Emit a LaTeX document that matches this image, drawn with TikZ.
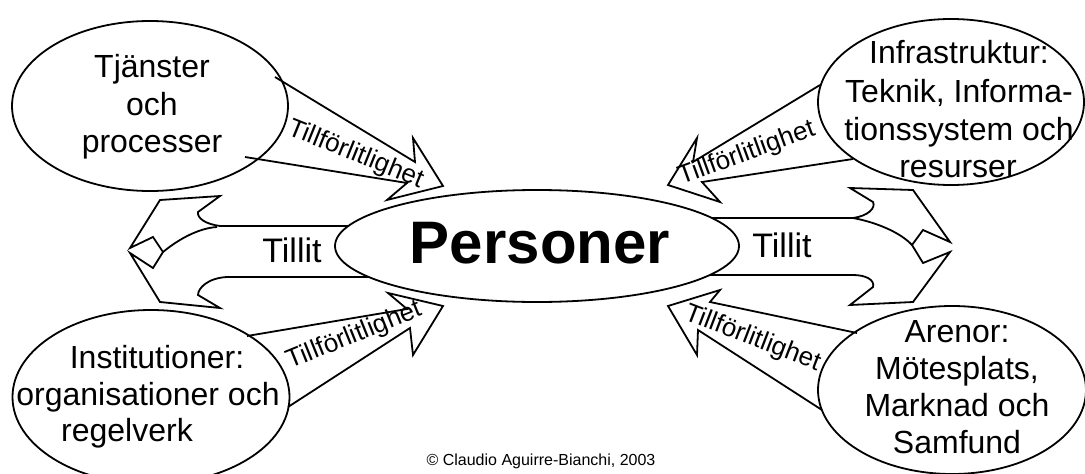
\documentclass[tikz,border=0pt]{standalone}
\usepackage{fontspec}
\setmainfont{Liberation Sans}
\usetikzlibrary{shapes.geometric}
\begin{document}
\begin{tikzpicture}[x=1pt,y=-1pt,
  outline/.style={draw=black, line width=1.8pt, line join=miter},
  bubble/.style={ellipse, draw=black, line width=1.8pt, fill=white, inner sep=0pt, outer sep=0pt},
  bubbletext/.style={font=\fontsize{32}{38}\selectfont, anchor=base, inner sep=0pt},
  trusttext/.style={font=\fontsize{34}{40}\selectfont, anchor=base, inner sep=0pt},
  reliatext/.style={font=\fontsize{26}{30}\selectfont, anchor=base, inner sep=0pt},
]
\useasboundingbox (0,0) rectangle (1085,474);

% "Tillit" double arrows, left and right of the central bubble
\draw[outline] (400,226) -- (220,226) .. controls (205,224) and (197,218) .. (198,212)
  -- (220,196) -- (160,200) -- (130,248) -- (153,237) -- (163,252) -- (153,268)
  -- (130,253) -- (160,302) -- (220,308) -- (198,295)
  .. controls (198,288) and (208,278) .. (227,277) -- (400,277);
\draw[outline] (163,252) .. controls (180,238) and (200,228) .. (217,227);

\draw[outline] (680,218) -- (853,218) .. controls (868,216) and (876,208) .. (873,202)
  -- (850,188) -- (913,190) -- (950,242) -- (923,230) -- (912,245) -- (923,263)
  -- (950,252) -- (913,302) -- (850,305) -- (873,287)
  .. controls (875,280) and (866,275) .. (853,275) -- (680,275);
\draw[outline] (853,218) .. controls (875,222) and (900,232) .. (912,245);

% bubbles
\node[bubble, minimum width=404pt, minimum height=112pt] (personer) at (537,246) {};
\node[bubble, minimum width=276pt, minimum height=170pt] (tjanster) at (150,106) {};
\node[bubble, minimum width=266pt, minimum height=166pt] (infra) at (951,102) {};
\node[bubble, minimum width=277pt, minimum height=174pt] (inst) at (151,397) {};
\node[bubble, minimum width=268pt, minimum height=168pt] (arenor) at (952,390) {};

% "Tillförlitlighet" block arrows towards the central bubble
\draw[outline] (275,77) -- (415,162) -- (413,138) -- (443,186) -- (387,200) -- (407,183) -- (245,157);
\draw[outline] (820,85) -- (693,162) -- (697,138) -- (668,185) -- (720,202) -- (702,182) -- (853,159);
\draw[outline] (247,336) -- (407,309) -- (388,293) -- (443,306) -- (413,355) -- (410,328) -- (288,407);
\draw[outline] (857,333) -- (710,302) -- (720,290) -- (668,306) -- (697,355) -- (698,330) -- (822,410);

% labels
\node[font=\fontsize{60}{66}\selectfont\bfseries, anchor=base, inner sep=0pt] (personerlabel) at (540,263) {Personer};

\node[bubbletext] (t1) at (152,77) {Tjänster};
\node[bubbletext] (t2) at (152,115) {och};
\node[bubbletext] (t3) at (152,152) {processer};

\node[bubbletext] (i1) at (959,63) {Infrastruktur:};
\node[bubbletext] (i2) at (959,102) {Teknik, Informa-};
\node[bubbletext] (i3) at (959,140) {tionssystem och};
\node[bubbletext] (i4) at (958,177) {resurser};

\node[bubbletext] (n1) at (157,368) {Institutioner:};
\node[bubbletext] (n2) at (148,405) {organisationer och};
\node[bubbletext] (n3) at (127,441) {regelverk};

\node[bubbletext] (a1) at (957,342) {Arenor:};
\node[bubbletext] (a2) at (957,379) {Mötesplats,};
\node[bubbletext] (a3) at (957,416) {Marknad och};
\node[bubbletext] (a4) at (957,453) {Samfund};

\node[trusttext] (tl) at (292,262) {Tillit};
\node[trusttext] (tr) at (782,257) {Tillit};

\node[reliatext, rotate=-22] (r1) at (353,161) {Tillförlitlighet};
\node[reliatext, rotate=20] (r2) at (749,160) {Tillförlitlighet};
\node[reliatext, rotate=22] (r3) at (357,342) {Tillförlitlighet};
\node[reliatext, rotate=-21] (r4) at (750,345) {Tillförlitlighet};

\node[font=\fontsize{16}{19}\selectfont, anchor=base, inner sep=0pt] (copy) at (541,465) {© Claudio Aguirre-Bianchi, 2003};
\end{tikzpicture}
\end{document}
